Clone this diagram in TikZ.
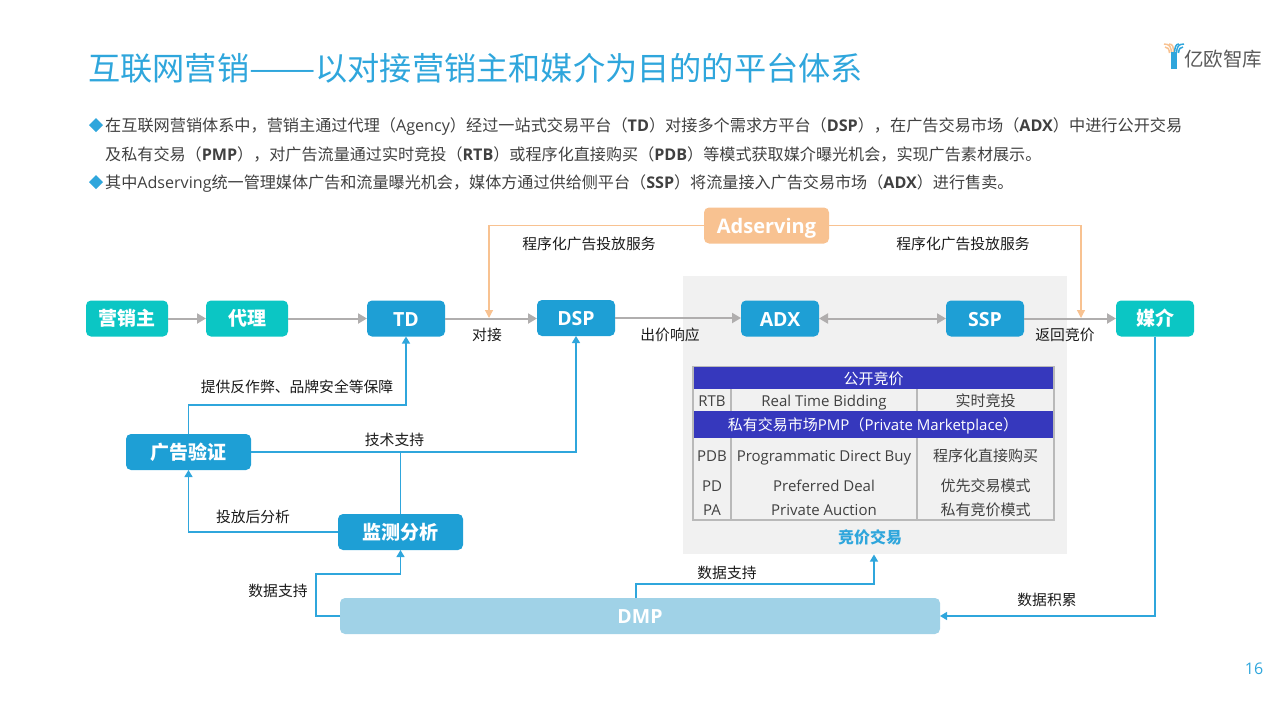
\documentclass[tikz,border=0pt]{standalone}
\usepackage{fontspec}
\setmainfont{Noto Sans CJK SC}
\newfontfamily\latinf{Open Sans}
\newcommand{\en}[1]{{\latinf #1}}
\newcommand{\enb}[1]{{\latinf\bfseries #1}}
\newcommand{\fs}[1]{\fontsize{#1}{#1}\selectfont}
\usetikzlibrary{arrows.meta}
\definecolor{teal1}{HTML}{0BC6C4}
\definecolor{blue1}{HTML}{1E9FD5}
\definecolor{orange1}{HTML}{F8C291}
\definecolor{light1}{HTML}{A0D2E7}
\definecolor{gray1}{HTML}{B0AEAE}
\definecolor{line1}{HTML}{2FA6DC}
\definecolor{panel1}{HTML}{F1F1F1}
\definecolor{head1}{HTML}{3638BD}
\definecolor{rule1}{HTML}{B9B9B9}
\definecolor{body1}{HTML}{404040}
\definecolor{label1}{HTML}{1A1A1A}
\tikzset{
  x=1pt,y=-1pt,
  boxn/.style={rounded corners=5pt,text=white,align=center,inner sep=0pt,outer sep=0pt,font=\fs{19}\bfseries,anchor=north west},
  tealbox/.style={boxn,fill=teal1},
  bluebox/.style={boxn,fill=blue1},
  orangebox/.style={boxn,fill=orange1},
  lightbox/.style={boxn,fill=light1},
  latinbox/.style={text height=16.5pt,text depth=1.5pt},
  grayarrow/.style={draw=gray1,line width=2pt,-{Triangle[length=9pt,width=10pt]}},
  grayboth/.style={draw=gray1,line width=2pt,{Triangle[length=9pt,width=10pt]}-{Triangle[length=9pt,width=10pt]}},
  orangearrow/.style={draw=orange1,line width=1.2pt,-{Triangle[length=8pt,width=8pt]}},
  bluearrow/.style={draw=line1,line width=1.3pt,-{Triangle[length=7pt,width=8pt]}},
  blueline/.style={draw=line1,line width=1.3pt},
  lab/.style={text=label1,font=\fs{14.8},inner sep=0pt},
  bodyt/.style={text=body1,font=\fs{16.1},inner sep=0pt,anchor=west,text height=13pt,text depth=4pt},
  cell/.style={text=body1,font=\fs{15},inner sep=0pt,text height=11pt,text depth=3pt},
  headt/.style={text=white,font=\fs{15},inner sep=0pt,text height=11pt,text depth=3pt},
}
\begin{document}
\begin{tikzpicture}
\useasboundingbox (0,0) rectangle (1280,720);
% title
\node[inner sep=0pt,anchor=west,text=line1,font=\fs{32.2}] (title) at (88,68.5) {互联网营销\scalebox{1.23}[1]{——}以对接营销主和媒介为目的的平台体系};
% logo
\begin{scope}[line width=1.5pt]
\draw[orange1] (1164,44) .. controls (1170,44) and (1171,47) .. (1171.5,53);
\draw[orange1] (1165,47) .. controls (1168,47) and (1169,49) .. (1169.5,53);
\draw[orange1] (1169,44) .. controls (1173,44) and (1173.5,47) .. (1173.5,53);
\draw[line1] (1184,44) .. controls (1178,44) and (1177,47) .. (1176.5,53);
\draw[line1] (1183,47) .. controls (1180,47) and (1179,49) .. (1178.5,53);
\draw[line1] (1179,44) .. controls (1175.5,44) and (1175,47) .. (1174.5,53);
\end{scope}
\fill[line1] (1171,52) rectangle (1177,69);
\node[inner sep=0pt,anchor=west,text=black!65,font=\fs{19.5}] (logotext) at (1184,59.5) {亿欧智库};
% bullets
\fill[line1] (96,118) -- (103,125) -- (96,132) -- (89,125) -- cycle;
\fill[line1] (96,175) -- (103,182) -- (96,189) -- (89,182) -- cycle;
\node[bodyt,font=\fs{16.16}] (b1) at (105,126.5) {在互联网营销体系中，营销主通过代理（\en{Agency}）经过一站式交易平台（\enb{TD}）对接多个需求方平台（\enb{DSP}），在广告交易市场（\enb{ADX}）中进行公开交易};
\node[bodyt] (b2) at (105,155.5) {及私有交易（\enb{PMP}），对广告流量通过实时竞投（\enb{RTB}）或程序化直接购买（\enb{PDB}）等模式获取媒介曝光机会，实现广告素材展示。};
\node[bodyt] (b3) at (105,183.5) {其中\en{Adserving}统一管理媒体广告和流量曝光机会，媒体方通过供给侧平台（\enb{SSP}）将流量接入广告交易市场（\enb{ADX}）进行售卖。};
% panel
\fill[panel1] (683,276) rectangle (1067,554);
\coordinate (panelb) at (874,554.5);
% nodes
\node[tealbox,minimum width=82pt,minimum height=36pt] (adv) at (86,300.5) {营销主};
\node[tealbox,minimum width=82pt,minimum height=36pt] (agent) at (206,300.5) {代理};
\node[bluebox,latinbox,minimum width=78pt,minimum height=36pt] (td) at (367,300.5) {\fs{19.5}\latinf TD};
\node[bluebox,latinbox,minimum width=78pt,minimum height=36pt] (dsp) at (537,300) {\fs{19.5}\latinf DSP};
\node[bluebox,latinbox,minimum width=78pt,minimum height=36pt] (adx) at (741,300.5) {\fs{19.5}\latinf ADX};
\node[bluebox,latinbox,minimum width=78pt,minimum height=36pt] (ssp) at (946,300.5) {\fs{19.5}\latinf SSP};
\node[tealbox,minimum width=78pt,minimum height=36pt] (media) at (1116,300.5) {媒介};
\node[orangebox,latinbox,minimum width=125pt,minimum height=36pt] (adserv) at (704,207.5) {\fs{20}\latinf Adserving};
\node[bluebox,minimum width=125pt,minimum height=36pt] (verify) at (126,434) {广告验证};
\node[bluebox,minimum width=125pt,minimum height=36pt] (monitor) at (338,514) {监测分析};
\node[lightbox,latinbox,minimum width=600pt,minimum height=36pt] (dmp) at (340,598) {\fs{19.5}\latinf DMP};
% grey connectors
\draw[grayarrow] (adv) -- (agent);
\draw[grayarrow] (agent) -- (td);
\draw[grayarrow] (td) -- (td.east -| dsp.west);
\draw[grayarrow] (dsp) -- (dsp.east -| adx.west);
\draw[grayboth] (adx) -- (ssp);
\draw[grayarrow] (ssp) -- (media);
% orange connectors
\coordinate (tdsp) at (489,318);
\coordinate (sspm) at (1081,318);
\draw[orangearrow] (adserv.west) -| (tdsp);
\draw[orangearrow] (adserv.east) -| (sspm);
% blue connectors
\draw[bluearrow] (verify.north) |- (300,405) -| (td.south);
\draw[bluearrow] (verify.east) -| (dsp.south);
\draw[blueline] (monitor.north) -- (monitor.north |- verify.east);
\draw[bluearrow] (monitor.west) -| (verify.south);
\draw[bluearrow] (dmp.west) -| (316,574) -| (monitor.south);
\coordinate (dmpt) at (636,598);
\draw[bluearrow] (dmpt) |- (750,584) -| (panelb);
\draw[bluearrow] (media.south) |- (dmp.east);
% labels
\node[lab] (l1) at (589,243.5) {程序化广告投放服务};
\node[lab] (l2) at (963,243.5) {程序化广告投放服务};
\node[lab] (l3) at (487,334.5) {对接};
\node[lab] (l4) at (670,334.5) {出价响应};
\node[lab] (l5) at (1065,334.5) {返回竞价};
\node[lab] (l6) at (297,386.5) {提供反作弊、品牌安全等保障};
\node[lab] (l7) at (394.5,439.5) {技术支持};
\node[lab] (l8) at (253,516.5) {投放后分析};
\node[lab] (l9) at (278,590.5) {数据支持};
\node[lab] (l10) at (727,572.5) {数据支持};
\node[lab] (l11) at (1047,599.5) {数据积累};
% table
\fill[head1] (693,367) rectangle (1054,389);
\fill[head1] (693,411) rectangle (1054,438);
\draw[rule1,line width=1.3pt] (693,366.5) rectangle (1054,520);
\draw[rule1,line width=1.3pt] (731,389) -- (731,411) (917,389) -- (917,411);
\draw[rule1,line width=1.3pt] (731,438) -- (731,520) (917,438) -- (917,520);
\node[headt] (t0) at (873.5,380) {公开竞价};
\node[cell] (t1a) at (712,402) {\latinf RTB};
\node[cell] (t1b) at (824,402) {\latinf Real Time Bidding};
\node[cell] (t1c) at (985.5,402) {实时竞投};
\node[headt] (t2) at (873,426) {私有交易市场\en{PMP}（\en{Private Marketplace}）};
\node[cell] (t3a) at (712,457) {\latinf PDB};
\node[cell] (t3b) at (824,457) {\latinf Programmatic Direct Buy};
\node[cell] (t3c) at (985.5,457) {程序化直接购买};
\node[cell] (t4a) at (712,487) {\latinf PD};
\node[cell] (t4b) at (824,487) {\latinf Preferred Deal};
\node[cell] (t4c) at (985.5,487) {优先交易模式};
\node[cell] (t5a) at (712,511) {\latinf PA};
\node[cell] (t5b) at (824,511) {\latinf Private Auction};
\node[cell] (t5c) at (985.5,511) {私有竞价模式};
\node[inner sep=0pt,text=line1,font=\fs{16}\bfseries] (t6) at (870,537.5) {竞价交易};
\node[inner sep=0pt,text=line1,font=\fs{16}\latinf] (page) at (1254,669) {16};
\end{tikzpicture}
\end{document}
